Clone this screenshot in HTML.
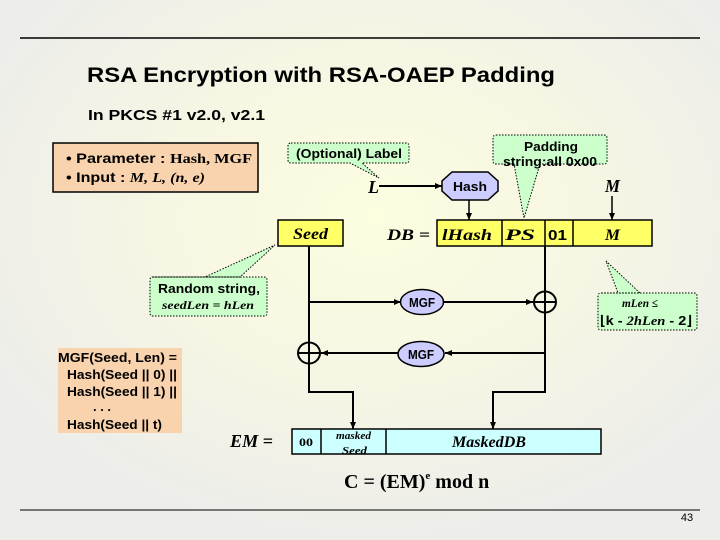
<!DOCTYPE html>
<html><head><meta charset="utf-8"><style>
body{margin:0;width:720px;height:540px;overflow:hidden}
svg{display:block}
text{font-family:"Liberation Sans",sans-serif}
.s{font-family:"Liberation Serif",serif;font-style:italic;font-weight:bold}
.r{font-family:"Liberation Serif",serif;font-weight:bold}
</style></head><body>
<svg width="720" height="540" viewBox="0 0 720 540" xmlns="http://www.w3.org/2000/svg">
<defs>
<radialGradient id="bg" cx="0.52" cy="0.4" r="0.6">
<stop offset="0" stop-color="#fdfde0"/><stop offset="0.5" stop-color="#f6f6e4"/><stop offset="1" stop-color="#ededea"/>
</radialGradient>
<marker id="a" markerWidth="8" markerHeight="8" refX="7" refY="4" orient="auto" markerUnits="userSpaceOnUse"><path d="M0,1 L7,4 L0,7 z" fill="#000"/></marker>
</defs>
<rect width="720" height="540" fill="url(#bg)"/>
<line x1="20" y1="38" x2="700" y2="38" stroke="#000" stroke-width="1.5"/>
<line x1="20" y1="510" x2="700" y2="510" stroke="#000" stroke-width="1"/>
<text x="87" y="82" font-size="21" font-weight="bold" textLength="468" lengthAdjust="spacingAndGlyphs">RSA Encryption with RSA-OAEP Padding</text>
<text x="88" y="120" font-size="15" font-weight="bold" textLength="177" lengthAdjust="spacingAndGlyphs">In PKCS #1 v2.0, v2.1</text>

<rect x="53" y="143" width="205" height="49" fill="#f9d3ae" stroke="#000" stroke-width="1.5"/>
<text x="66" y="163" font-size="14" font-weight="bold" textLength="186" lengthAdjust="spacingAndGlyphs">• Parameter : <tspan class="r">Hash, MGF</tspan></text>
<text x="66" y="182" font-size="14" font-weight="bold" textLength="139" lengthAdjust="spacingAndGlyphs">• Input : <tspan class="s">M, L, (n, e)</tspan></text>

<!-- callouts -->
<g fill="#ccffcc" stroke="#000" stroke-dasharray="1.5,1.5" stroke-width="1">
<path d="M291,143 H406 Q409,143 409,146 V160 Q409,163 406,163 H362 L379,178 L350,163 H291 Q288,163 288,160 V146 Q288,143 291,143 Z"/>
<path d="M496,135 H604 Q607,135 607,138 V161 Q607,164 604,164 H540 L524,218 L514,164 H496 Q493,164 493,161 V138 Q493,135 496,135 Z"/>
<path d="M153,277 H264 Q267,277 267,280 V313 Q267,316 264,316 H153 Q150,316 150,313 V280 Q150,277 153,277 H205 L275,245 L240,277 Z"/>
<path d="M601,293 H694 Q697,293 697,296 V327 Q697,330 694,330 H601 Q598,330 598,327 V296 Q598,293 601,293 H618 L606,261 L640,293 Z"/>
</g>
<text x="296" y="158" font-size="13" font-weight="bold" textLength="106" lengthAdjust="spacingAndGlyphs">(Optional) Label</text>
<text x="524" y="151" font-size="13" font-weight="bold" textLength="54" lengthAdjust="spacingAndGlyphs">Padding</text>
<text x="503" y="166" font-size="13" font-weight="bold" textLength="94" lengthAdjust="spacingAndGlyphs">string:all 0x00</text>
<text x="158" y="293" font-size="13" font-weight="bold" textLength="102" lengthAdjust="spacingAndGlyphs">Random string,</text>
<text x="162" y="309" font-size="12" class="s" textLength="92" lengthAdjust="spacingAndGlyphs">seedLen = hLen</text>
<text x="622" y="307" font-size="12" class="s" textLength="36" lengthAdjust="spacingAndGlyphs">mLen ≤</text>
<text x="600" y="325" font-size="13" font-weight="bold" textLength="92" lengthAdjust="spacingAndGlyphs">⌊k - <tspan class="s">2hLen</tspan> - 2⌋</text>

<!-- L -> Hash -->
<text x="368" y="193" font-size="18" class="s">L</text>
<line x1="379" y1="186" x2="442" y2="186" stroke="#000" stroke-width="2" marker-end="url(#a)"/>
<polygon points="452,172 488,172 498,181 498,191 488,200 452,200 442,191 442,181" fill="#ccccff" stroke="#000" stroke-width="1.5"/>
<text x="453" y="191" font-size="13" font-weight="bold" textLength="34" lengthAdjust="spacingAndGlyphs">Hash</text>
<line x1="469" y1="200" x2="469" y2="220" stroke="#000" stroke-width="1.5" marker-end="url(#a)"/>
<text x="605" y="192" font-size="18" class="s" textLength="15" lengthAdjust="spacingAndGlyphs">M</text>
<line x1="612" y1="196" x2="612" y2="220" stroke="#000" stroke-width="1.5" marker-end="url(#a)"/>

<!-- Seed and DB -->
<rect x="278" y="220" width="65" height="26" fill="#ffff66" stroke="#000" stroke-width="1.5"/>
<text x="293" y="239" font-size="16" class="s" textLength="35" lengthAdjust="spacingAndGlyphs">Seed</text>
<text x="387" y="240" font-size="16" class="s" textLength="43" lengthAdjust="spacingAndGlyphs">DB =</text>
<rect x="437" y="220" width="215" height="26" fill="#ffff66" stroke="#000" stroke-width="1.5"/>
<line x1="502" y1="220" x2="502" y2="246" stroke="#000" stroke-width="1.5"/>
<line x1="545" y1="220" x2="545" y2="246" stroke="#000" stroke-width="1.5"/>
<line x1="573" y1="220" x2="573" y2="246" stroke="#000" stroke-width="1.5"/>
<text x="442" y="240" font-size="16" class="s" textLength="50" lengthAdjust="spacingAndGlyphs">lHash</text>
<text x="505" y="240" font-size="16" class="s" textLength="30" lengthAdjust="spacingAndGlyphs">PS</text>
<text x="548" y="240" font-size="15" font-weight="bold" textLength="19" lengthAdjust="spacingAndGlyphs">01</text>
<text x="605" y="240" font-size="16" class="s" textLength="15" lengthAdjust="spacingAndGlyphs">M</text>

<!-- lines -->
<g stroke="#000" stroke-width="2" fill="none">
<path d="M309,246 V343"/>
<path d="M309,302 H401" marker-end="url(#a)"/>
<path d="M444,302 H533" marker-end="url(#a)"/>
<path d="M545,246 V392 H493 V429" marker-end="url(#a)"/>
<path d="M545,353 H445" marker-end="url(#a)"/>
<path d="M398,353 H321" marker-end="url(#a)"/>
<path d="M309,363 V392 H353 V429" marker-end="url(#a)"/>
<ellipse cx="545" cy="302" rx="11" ry="10.5"/>
<line x1="534" y1="302" x2="556" y2="302"/>
<line x1="545" y1="291" x2="545" y2="313"/>
<ellipse cx="309" cy="353" rx="11" ry="10.5"/>
<line x1="298" y1="353" x2="320" y2="353"/>
<line x1="309" y1="342" x2="309" y2="364"/>
</g>
<ellipse cx="422" cy="302" rx="21.5" ry="12.5" fill="#ccccff" stroke="#000" stroke-width="1.5"/>
<text x="409" y="307" font-size="13" font-weight="bold" textLength="26" lengthAdjust="spacingAndGlyphs">MGF</text>
<ellipse cx="421" cy="354" rx="23" ry="12.5" fill="#ccccff" stroke="#000" stroke-width="1.5"/>
<text x="408" y="359" font-size="13" font-weight="bold" textLength="26" lengthAdjust="spacingAndGlyphs">MGF</text>

<!-- MGF def -->
<rect x="58" y="348" width="124" height="85" fill="#f9d3ae"/>
<g font-size="13" font-weight="bold">
<text x="58" y="362" textLength="119" lengthAdjust="spacingAndGlyphs">MGF(Seed, Len) =</text>
<text x="67" y="379" textLength="110" lengthAdjust="spacingAndGlyphs">Hash(Seed || 0) ||</text>
<text x="67" y="396" textLength="110" lengthAdjust="spacingAndGlyphs">Hash(Seed || 1) ||</text>
<text x="93" y="411" textLength="18" lengthAdjust="spacingAndGlyphs">. . .</text>
<text x="67" y="429" textLength="95" lengthAdjust="spacingAndGlyphs">Hash(Seed || t)</text>
</g>

<!-- EM -->
<text x="230" y="447" font-size="18" class="s" textLength="43" lengthAdjust="spacingAndGlyphs">EM =</text>
<rect x="292" y="429" width="309" height="25" fill="#ccffff" stroke="#000" stroke-width="1.5"/>
<line x1="321" y1="429" x2="321" y2="454" stroke="#000" stroke-width="1.5"/>
<line x1="386" y1="429" x2="386" y2="454" stroke="#000" stroke-width="1.5"/>
<text x="299" y="446" font-size="12" class="r" textLength="14" lengthAdjust="spacingAndGlyphs">00</text>
<text x="336" y="439" font-size="10" class="s" font-weight="normal" textLength="35" lengthAdjust="spacingAndGlyphs">masked</text>
<text x="342" y="454" font-size="10" class="s" font-weight="normal" textLength="25" lengthAdjust="spacingAndGlyphs">Seed</text>
<text x="452" y="447" font-size="16" class="s" font-weight="normal" textLength="74" lengthAdjust="spacingAndGlyphs">MaskedDB</text>
<text x="344" y="488" font-size="20" class="r">C = (EM)<tspan font-size="11" dy="-9">e</tspan><tspan dy="9"> mod n</tspan></text>
<text x="687" y="521" font-size="11" text-anchor="middle">43</text>
</svg>
</body></html>
